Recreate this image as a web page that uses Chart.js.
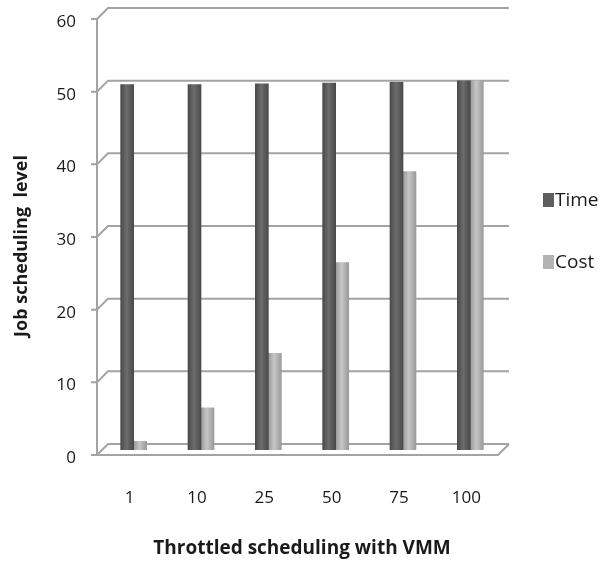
<!DOCTYPE html>
<html>
<head>
<meta charset="utf-8">
<script src="https://cdn.jsdelivr.net/npm/chart.js@4.4.1/dist/chart.umd.min.js"></script>
<style>
  html, body { margin: 0; padding: 0; background: #fff; }
  #wrap { width: 614px; height: 565px; }
</style>
</head>
<body>
<div id="wrap"><canvas id="chart"></canvas></div>
<script>
// values
const categories = ["1", "10", "25", "50", "75", "100"];
const timeValues = [50.3, 50.3, 50.4, 50.5, 50.6, 50.8];
const costValues = [1.2, 5.8, 13.3, 25.8, 38.3, 50.8];
const yTicks = [0, 10, 20, 30, 40, 50, 60];
const yTitle = "Job scheduling  level";

const FONT = "'Open Sans', 'DejaVu Sans', sans-serif";
const GRID = "#a3a3a3";

// cylinder-ish shading across each bar, falls back to a flat colour
function barShade(base, dark, light, side) {
    return ctx => {
        const chart = ctx.chart;
        const xs = chart.scales && chart.scales.x;
        if (!chart.chartArea || !xs || ctx.dataIndex === undefined) return base;
        const c = xs.getPixelForValue(ctx.dataIndex);
        const x0 = side < 0 ? c - 13 : c;
        const g = chart.ctx.createLinearGradient(x0, 0, x0 + 13, 0);
        g.addColorStop(0, dark);
        g.addColorStop(0.45, light);
        g.addColorStop(1, dark);
        return g;
    };
}

// fake 3D walls: back grid, side wall diagonals, floor
const depthGrid = {
    id: "depthGrid",
    beforeDatasetsDraw(chart) {
        const { ctx, chartArea: a, scales: { y } } = chart;
        const fx = a.left - 3, bx = a.left + 8, dy = 5, by = 6;
        ctx.save();
        ctx.strokeStyle = GRID;
        ctx.lineWidth = 2;
        yTicks.forEach(v => {
            const p = y.getPixelForValue(v);
            ctx.beginPath();
            ctx.moveTo(fx - 6, p + dy);
            ctx.lineTo(fx, p + dy);
            ctx.lineTo(bx, p - by);
            ctx.lineTo(a.right + 5, p - by);
            ctx.stroke();
        });
        // front axis
        ctx.beginPath();
        ctx.moveTo(fx, y.getPixelForValue(60) + dy);
        ctx.lineTo(fx, a.bottom + dy);
        ctx.lineTo(a.right - 6, a.bottom + dy);
        ctx.lineTo(a.right + 5, a.bottom - by);
        ctx.stroke();
        ctx.restore();
    }
};

// legend and y title drawn by hand so they sit where the reference has them
const sideText = {
    id: "sideText",
    afterDraw(chart) {
        const { ctx } = chart;
        const items = [
            { text: chart.data.datasets[0].label, color: "#5e5e5e", y: 200 },
            { text: chart.data.datasets[1].label, color: "#b3b3b3", y: 262 },
        ];
        ctx.save();
        ctx.font = "19px " + FONT;
        ctx.textBaseline = "middle";
        items.forEach(it => {
            ctx.fillStyle = it.color;
            ctx.fillRect(543, it.y - 7, 11, 14);
            ctx.fillStyle = "#1a1a1a";
            ctx.fillText(it.text, 555, it.y + 1);
        });
        ctx.translate(22, 246);
        ctx.rotate(-Math.PI / 2);
        ctx.textAlign = "center";
        ctx.font = "bold 18px " + FONT;
        ctx.fillText(yTitle, 0, 0);
        ctx.restore();
    }
};

new Chart(document.getElementById("chart"), {
    type: "bar",
    data: {
        labels: categories,
        datasets: [
            {
                label: "Time",
                data: timeValues,
                backgroundColor: barShade("#5e5e5e", "#4a4a4a", "#6c6c6c", -1),
                borderWidth: 0,
                barThickness: 13,
            },
            {
                label: "Cost",
                data: costValues,
                backgroundColor: barShade("#b3b3b3", "#9a9a9a", "#c6c6c6", 1),
                borderWidth: 0,
                barThickness: 13,
            },
        ],
    },
    options: {
        responsive: true,
        maintainAspectRatio: false,
        animation: false,
        layout: { padding: { top: 14, right: 110, bottom: 0, left: 0 } },
        plugins: {
            legend: { display: false },
            tooltip: { enabled: false },
        },
        scales: {
            x: {
                grid: { display: false, drawTicks: false },
                border: { display: false },
                ticks: {
                    color: "#1a1a1a",
                    font: { family: FONT, size: 17 },
                    padding: 38,
                    labelOffset: -4,
                },
                title: {
                    display: true,
                    text: "Throttled scheduling with VMM",
                    color: "#1a1a1a",
                    font: { family: FONT, size: 19, weight: "bold" },
                    padding: { top: 0, bottom: 5 },
                },
                afterFit(scale) {
                    scale.height = 115;
                    scale.paddingLeft = 0;
                    scale.paddingRight = 0;
                },
            },
            y: {
                min: 0,
                max: 60,
                afterBuildTicks(scale) { scale.ticks = yTicks.map(v => ({ value: v })); },
                grid: { display: false, drawTicks: false },
                border: { display: false },
                ticks: {
                    color: "#1a1a1a",
                    font: { family: FONT, size: 17 },
                    padding: 24,
                    labelOffset: 8,
                },
                afterFit(scale) {
                    scale.width = 100;
                    scale.paddingTop = 0;
                    scale.paddingBottom = 0;
                },
            },
        },
    },
    plugins: [depthGrid, sideText],
});
</script>
</body>
</html>
